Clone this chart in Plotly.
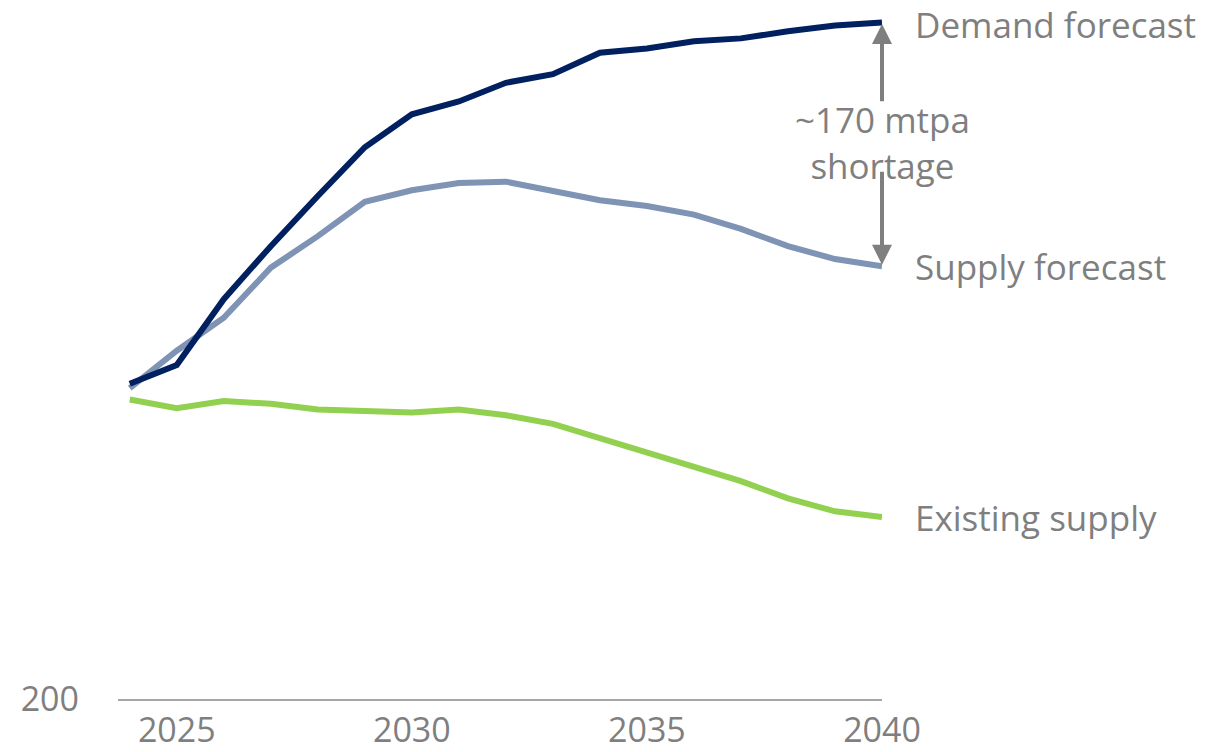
import plotly.graph_objects as go

years = list(range(2024, 2041))
demand = [420, 433, 479, 516, 551, 585, 608, 617, 630, 636, 651, 654, 659, 661, 666, 670, 672]
supply = [417, 443, 466, 501, 523, 547, 555, 560, 561, 555, 548, 544, 538, 528, 516, 507, 502]
existing = [409, 403, 408, 406, 402, 401, 400, 402, 398, 392, 382, 373, 362, 352, 340, 331, 327]

labels = ["Demand forecast", "Supply forecast", "Existing supply"]
colors = ["#002060", "#7F93B5", "#92D050"]
gap_text = "~170 mtpa<br>shortage"

FONT = "Open Sans"
FS = 35
TFS = 34
GRAY = "#7F7F7F"

fig = go.Figure()
for name, vals, col in [(labels[2], existing, colors[2]), (labels[1], supply, colors[1]), (labels[0], demand, colors[0])]:
    fig.add_trace(go.Scatter(x=years, y=vals, mode="lines", name=name,
                             line=dict(color=col, width=6), cliponaxis=False, showlegend=False))

for name, vals, ys in zip(labels, [demand, supply, existing], [-2, 0, 0]):
    fig.add_annotation(x=years[-1], y=vals[-1], text=name, showarrow=False,
                       xanchor="left", yanchor="middle", xshift=31, yshift=ys,
                       font=dict(family=FONT, size=FS, color=GRAY))

gap_mid = (demand[-1] + supply[-1]) / 2
fig.add_annotation(x=years[-1], y=gap_mid + 1.5, text=gap_text, showarrow=False,
                   xanchor="center", yanchor="middle",
                   font=dict(family=FONT, size=FS, color=GRAY))
# arrows
fig.add_annotation(x=years[-1], y=demand[-1] - 1, ax=years[-1], ay=gap_mid + 29,
                   axref="x", ayref="y", xref="x", yref="y", text="", showarrow=True,
                   arrowhead=2, arrowsize=1, arrowwidth=4, arrowcolor=GRAY)
fig.add_annotation(x=years[-1], y=supply[-1] + 1, ax=years[-1], ay=gap_mid - 18,
                   axref="x", ayref="y", xref="x", yref="y", text="", showarrow=True,
                   arrowhead=2, arrowsize=1, arrowwidth=4, arrowcolor=GRAY)

fig.update_layout(
    width=1206, height=752,
    margin=dict(l=118, r=324, t=10, b=53),
    paper_bgcolor="white", plot_bgcolor="white",
    font=dict(family=FONT, size=FS, color=GRAY),
    xaxis=dict(range=[2023.75, 2040], tickvals=[2025, 2030, 2035, 2040], ticks="",
               showgrid=False, zeroline=False, showline=True, linecolor="#A6A6A6", linewidth=2,
               automargin=False, ticklabelstandoff=0,
               tickfont=dict(family=FONT, size=TFS, color=GRAY)),
    yaxis=dict(range=[200, 680.8], tickvals=[200], ticks="", showgrid=False, zeroline=False,
               showline=False, ticklabelstandoff=38, automargin=False,
               tickfont=dict(family=FONT, size=TFS, color=GRAY)),
)

fig.write_html("out.html")
